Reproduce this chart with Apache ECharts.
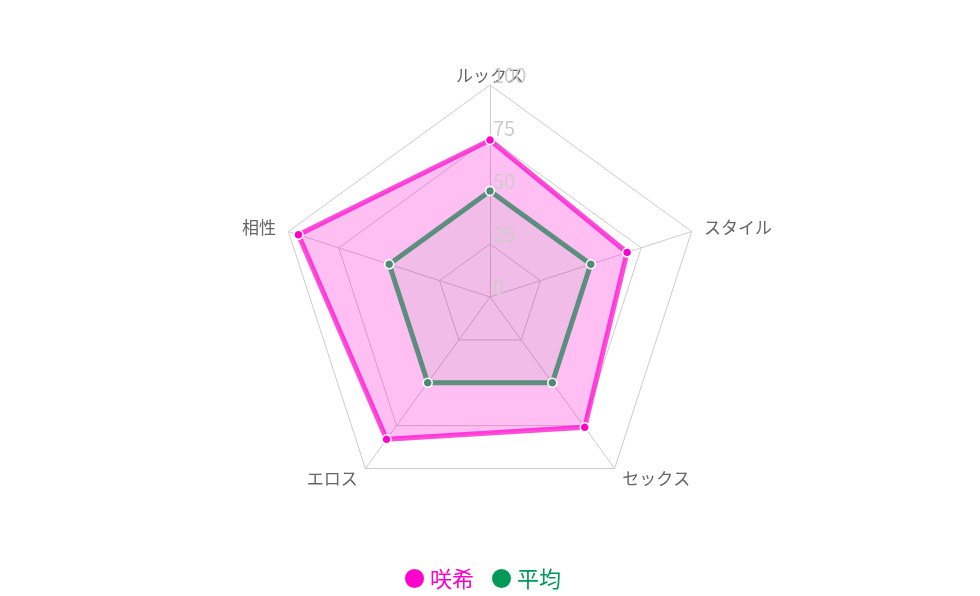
<!DOCTYPE html>
<html>
<head>
<meta charset="utf-8">
<script src="https://cdn.jsdelivr.net/npm/echarts@6/dist/echarts.min.js"></script>
<style>html,body{margin:0;padding:0;background:#fff}#c{width:980px;height:596px}</style>
</head>
<body>
<div id="c"></div>
<script>
const indicators = ['ルックス', '相性', 'エロス', 'セックス', 'スタイル'];
const maxValue = 100;
const sakiValues = [74, 95, 83, 76, 68];
const avgValues = [50, 50, 50, 50, 50];
const seriesNames = ['咲希', '平均'];

const chart = echarts.init(document.getElementById('c'));
const font = '"Noto Sans CJK JP", "Noto Sans", sans-serif';
const radarBase = {
  center: [490, 297],
  radius: 212,
  splitNumber: 4
};
chart.setOption({
  animation: false,
  textStyle: { fontFamily: font },
  legend: {
    top: 567,
    left: 403,
    icon: 'circle',
    itemWidth: 21,
    itemHeight: 21,
    itemGap: 16,
    padding: 0,
    textStyle: { fontSize: 22, fontFamily: font },
    data: [
      { name: seriesNames[0], itemStyle: { color: '#ff00cc' }, textStyle: { color: '#ff00cc' } },
      { name: seriesNames[1], itemStyle: { color: '#009955' }, textStyle: { color: '#009955' } }
    ]
  },
  radar: [Object.assign({}, radarBase, {
    z: 0,
    indicator: indicators.map((n, i) => i === 0
      ? { name: n, max: maxValue, min: 0, nameGap: 1 }
      : { name: n, max: maxValue, min: 0 }),
    axisName: { color: '#666', fontSize: 17, fontFamily: font },
    nameGap: 13,
    splitArea: { show: false },
    splitLine: { lineStyle: { color: '#cccccc', width: 1 } },
    axisLine: { lineStyle: { color: '#cccccc', width: 1 } },
    axisTick: { show: false },
    axisLabel: { show: false }
  }), Object.assign({}, radarBase, {
    z: 10,
    silent: true,
    indicator: indicators.map((n, i) => i === 0
      ? { name: n, max: maxValue, min: 0,
          axisLabel: { show: true, color: '#cccccc', fontSize: 20, fontFamily: font,
                       margin: -3, align: 'left', verticalAlign: 'bottom' } }
      : { name: n, max: maxValue, min: 0 }),
    axisName: { show: false },
    splitArea: { show: false },
    splitLine: { show: false },
    axisLine: { show: false },
    axisTick: { show: false },
    axisLabel: { show: false }
  })],
  series: [{
    type: 'radar',
    radarIndex: 0,
    z: 2,
    data: [{
      name: seriesNames[0],
      value: sakiValues,
      itemStyle: { color: '#ff00cc', borderColor: '#fff', borderWidth: 1.5 },
      lineStyle: { color: 'rgba(255,0,204,0.7)', width: 5 },
      areaStyle: { color: 'rgba(255,0,204,0.36)' },
      symbol: 'circle',
      symbolSize: 9
    }, {
      name: seriesNames[1],
      value: avgValues,
      itemStyle: { color: '#4f8a78', borderColor: '#fff', borderWidth: 1.5 },
      lineStyle: { color: '#5f8f80', width: 5 },
      areaStyle: { color: 'rgba(0,120,60,0.08)' },
      symbol: 'circle',
      symbolSize: 9
    }]
  }]
});
</script>
</body>
</html>
